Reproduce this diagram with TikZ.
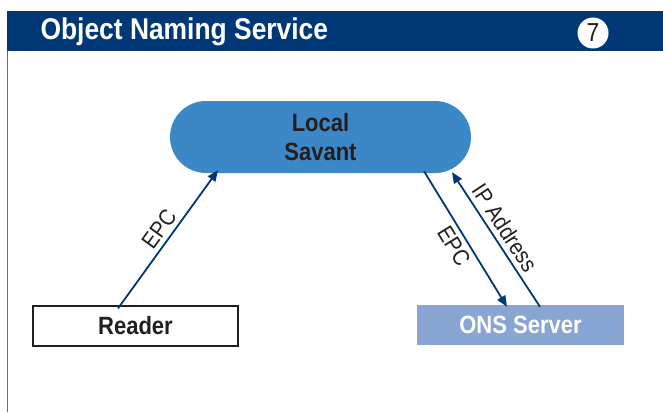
\documentclass[tikz,border=0pt]{standalone}
\usepackage{fontspec}
\setmainfont{Liberation Sans}[FakeStretch=0.88]
\usetikzlibrary{arrows.meta}
\definecolor{navy}{HTML}{003876}
\definecolor{savantblue}{HTML}{3C87C5}
\definecolor{onsblue}{HTML}{88A5D4}
\definecolor{inktext}{HTML}{231F20}
\tikzset{
  flow/.style={draw=navy, line width=1.8pt, -{Triangle[length=11pt,width=9pt]}},
  flowlabel/.style={font=\fontsize{23}{23}\selectfont, text=inktext, sloped, inner sep=4.5pt},
  boxtext/.style={font=\fontsize{25}{29}\selectfont\bfseries, text=inktext, align=center},
}
\begin{document}
\begin{tikzpicture}[x=1pt,y=-1pt]
  \useasboundingbox (0,0) rectangle (663,412);
  % header band and frame edge
  \fill[navy] (7,11) rectangle (663,51);
  \draw[navy!70, line width=0.9pt] (7.5,51) -- (7.5,412);
  \node[anchor=west, text=white, font=\fontsize{30}{30}\selectfont\bfseries] (title) at (37,32) {Object Naming Service};
  \node[circle, fill=white, minimum size=31pt, inner sep=0pt, font=\fontsize{26}{26}\selectfont, text=inktext] (num) at (593,33) {7};

  % nodes
  \node[boxtext, fill=savantblue, rounded corners=36pt, minimum width=301pt, minimum height=72pt] (savant) at (320.5,137) {Local\\Savant};
  \node[boxtext, draw=inktext, line width=1.2pt, fill=white, minimum width=205pt, minimum height=40pt] (reader) at (135.5,326) {Reader};
  \node[boxtext, fill=onsblue, text=white, minimum width=207pt, minimum height=40pt] (ons) at (520.5,325) {ONS Server};

  % connectors
  \draw[flow] ([xshift=-17.5pt,yshift=-3pt]reader.north) -- node[flowlabel, above, pos=0.52] {EPC} ([xshift=-102.5pt,yshift=3pt]savant.south);
  \draw[flow] ([xshift=103.5pt,yshift=2pt]savant.south) -- node[flowlabel, below, pos=0.5] {EPC} ([xshift=-13.5pt,yshift=-2pt]ons.north);
  \draw[flow] ([xshift=19.5pt,yshift=-2pt]ons.north) -- node[flowlabel, above, pos=0.53] {IP Address} ([xshift=131.5pt,yshift=1pt]savant.south);
\end{tikzpicture}
\end{document}
